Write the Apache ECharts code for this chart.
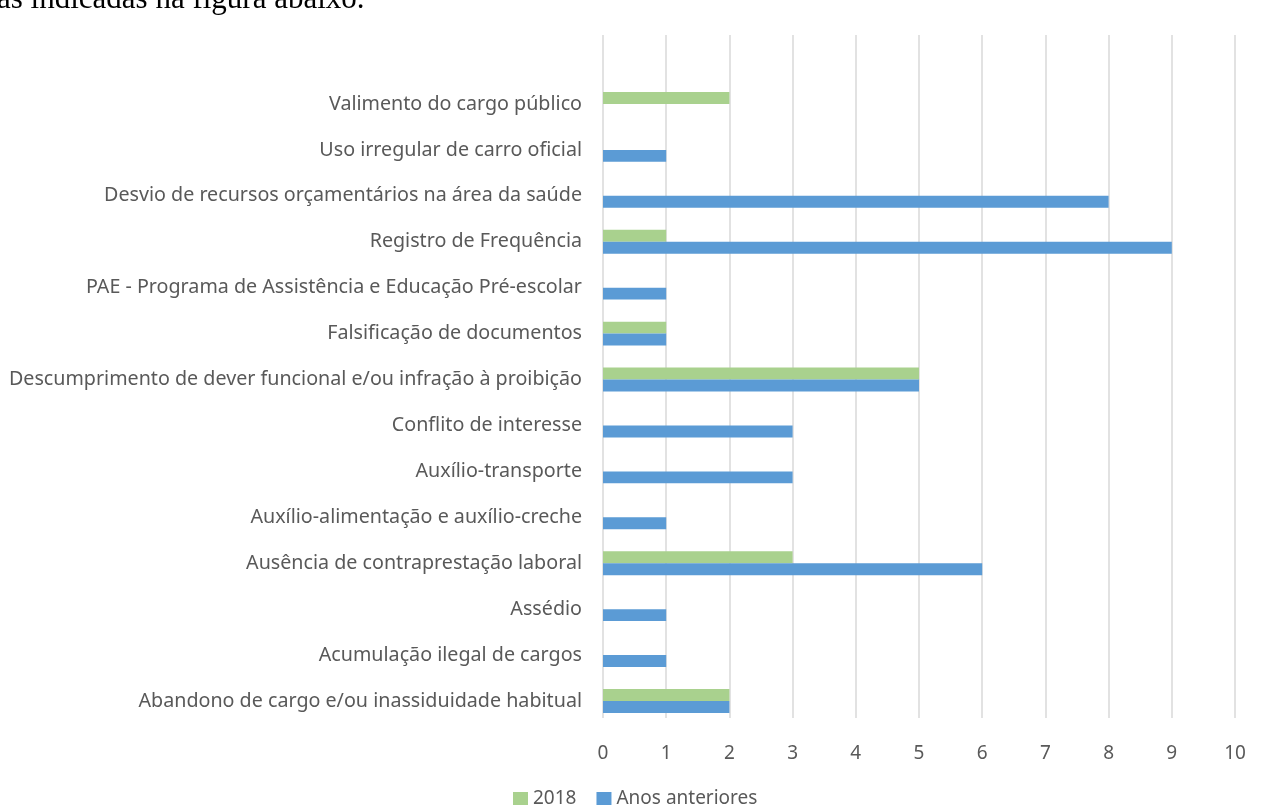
<!DOCTYPE html>
<html><head><meta charset="utf-8">
<script src="https://cdn.jsdelivr.net/npm/echarts@6/dist/echarts.min.js"></script>
<style>html,body{margin:0;padding:0;background:#fff}#c{width:1261px;height:807px}</style>
</head><body><div id="c"></div>
<script>
const categories = [
  "Abandono de cargo e/ou inassiduidade habitual",
  "Acumulação ilegal de cargos",
  "Assédio",
  "Ausência de contraprestação laboral",
  "Auxílio-alimentação e auxílio-creche",
  "Auxílio-transporte",
  "Conflito de interesse",
  "Descumprimento de dever funcional e/ou infração à proibição",
  "Falsificação de documentos",
  "PAE - Programa de Assistência e Educação Pré-escolar",
  "Registro de Frequência",
  "Desvio de recursos orçamentários na área da saúde",
  "Uso irregular de carro oficial",
  "Valimento do cargo público"
];
const values2018 = [2, null, null, 3, null, null, null, 5, 1, null, 1, null, null, 2];
const valuesAnteriores = [2, 1, 1, 6, 1, 3, 3, 5, 1, 1, 9, 8, 1, null];
const xTicks = [0,1,2,3,4,5,6,7,8,9,10];

const chart = echarts.init(document.getElementById('c'), null, {renderer:'canvas'});
const font = '"Noto Sans", sans-serif';
chart.setOption({
  animation:false,
  backgroundColor:'#fff',
  graphic:[{type:'text', left:-3, top:-16, style:{text:'as indicadas na figura abaixo.', font:'31px "Liberation Serif", serif', fill:'#000'}}],
  legend:{data:['2018','Anos anteriores'], left:513, top:789, padding:0, itemWidth:15, itemHeight:13, itemGap:20,
    icon:'rect', textStyle:{color:'#595959', fontSize:19, fontFamily:font, padding:[0,0,0,0]}},
  grid:[
    {left:603, right:26, top:81, height:643, containLabel:false},
    {left:603, right:26, top:35, bottom:89, containLabel:false}
  ],
  xAxis:[
    {gridIndex:0, type:'value', min:0, max:10, interval:1, axisLine:{show:false}, axisTick:{show:false},
     splitLine:{show:false}, axisLabel:{show:false}},
    {gridIndex:1, type:'value', min:0, max:10, interval:1, axisLine:{show:false}, axisTick:{show:false},
     splitLine:{show:true, lineStyle:{color:'#D9D9D9', width:1.5}},
     axisLabel:{color:'#595959', fontSize:19, fontFamily:font, margin:26, formatter:v=>xTicks.includes(v)?String(v):''}}
  ],
  yAxis:[
    {gridIndex:0, type:'category', data:categories, axisLine:{show:false}, axisTick:{show:false},
     axisLabel:{color:'#595959', fontSize:19.7, fontFamily:font, margin:21}},
    {gridIndex:1, type:'category', data:categories, show:false}
  ],
  series:[
    {name:'2018', type:'bar', xAxisIndex:0, yAxisIndex:0, data:values2018, barGap:'0%', barCategoryGap:'48%',
     itemStyle:{color:'#A9D18E'}},
    {name:'Anos anteriores', type:'bar', xAxisIndex:0, yAxisIndex:0, data:valuesAnteriores, barGap:'0%', barCategoryGap:'48%',
     itemStyle:{color:'#5B9BD5'}}
  ]
});
</script></body></html>
